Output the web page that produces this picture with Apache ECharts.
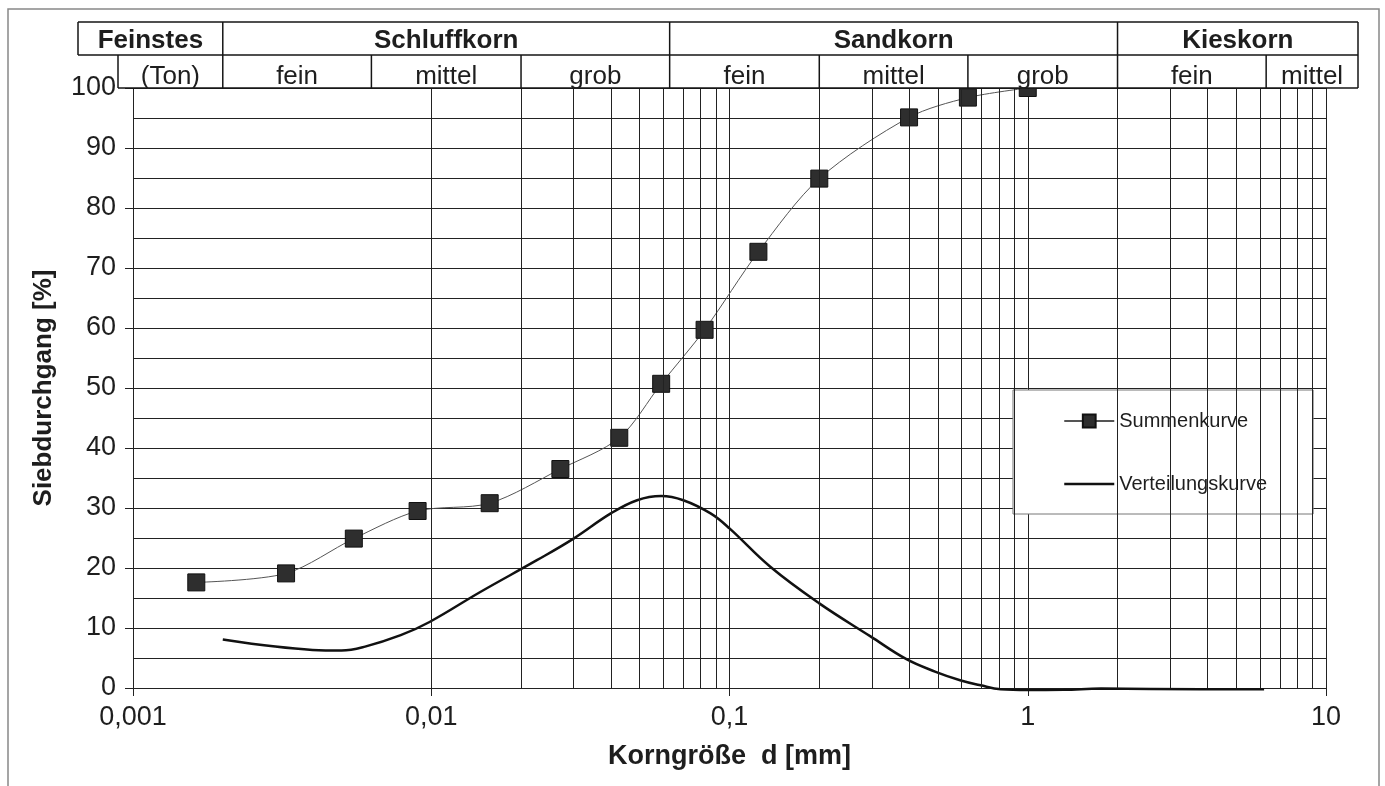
<!DOCTYPE html>
<html>
<head>
<meta charset="utf-8">
<title>Körnungslinie</title>
<script src="https://cdn.jsdelivr.net/npm/echarts@6/dist/echarts.min.js"></script>
<style>
  html, body { margin: 0; padding: 0; background: #fff; }
  #chart { width: 1385px; height: 786px; }
</style>
</head>
<body>
<div id="chart"></div>
<script>
// Summenkurve: Korngröße d [mm] / Siebdurchgang [%]
var summeD = [0.00163, 0.00326, 0.0055, 0.009, 0.0157, 0.0271, 0.0427, 0.059, 0.0825, 0.125, 0.2, 0.4, 0.63, 1.0]
var summeP = [17.6, 19.1, 24.9, 29.5, 30.8, 36.5, 41.7, 50.7, 59.7, 72.7, 84.9, 95.1, 98.4, 100]

// Verteilungskurve
var vertD = [0.002, 0.003, 0.004, 0.005, 0.006, 0.0079, 0.00987, 0.0146, 0.0226, 0.03, 0.04, 0.049,
  0.059, 0.07, 0.0864, 0.1, 0.137, 0.2, 0.297, 0.392, 0.491, 0.593, 0.695, 0.811, 1.0, 1.32, 1.76, 3.8, 6.2]
var vertP = [8.1, 6.9, 6.35, 6.25, 6.9, 8.8, 11.0, 16.0, 21.3, 24.9, 29.1, 31.3,
  32.0, 31.3, 29.1, 26.6, 20.2, 14.1, 8.6, 4.8, 2.7, 1.3, 0.45, -0.2, -0.33, -0.3, -0.1, -0.2, -0.2]

var xTickLabels = ['0,001', '0,01', '0,1', '1', '10']
// Zwischenlinien im log. Raster
var minorGridX = [0.002, 0.003, 0.004, 0.005, 0.006, 0.007, 0.008, 0.009,
  0.02, 0.03, 0.04, 0.05, 0.06, 0.07, 0.08, 0.09,
  0.2, 0.3, 0.4, 0.5, 0.6, 0.7, 0.8, 0.9,
  2, 3, 4, 5, 6, 7, 8, 9]

// Kopftabelle
var kornGruppen = ['Feinstes', 'Schluffkorn', 'Sandkorn', 'Kieskorn']
var kornGruppenGrenzen = [0.002, 0.063, 2]
var kornStufen = ['(Ton)', 'fein', 'mittel', 'grob', 'fein', 'mittel', 'grob', 'fein', 'mittel']
var kornStufenGrenzen = [0.002, 0.0063, 0.02, 0.063, 0.2, 0.63, 2, 6.3]

var FONT = 'Liberation Sans'
var INK = '#1e1e1e'

var chart = echarts.init(document.getElementById('chart'))

function pairs(xs, ys) {
  return xs.map(function(x, i) { return [x, ys[i]] })
}

chart.setOption({
  animation: false,
  backgroundColor: '#fff',
  textStyle: { fontFamily: FONT, color: INK },
  grid: { left: 133, right: 59, top: 88, bottom: 98 },
  legend: {
    orient: 'vertical',
    left: 1013,
    top: 390,
    data: [
      { name: 'Summenkurve' },
      {
        name: 'Verteilungskurve',
        itemStyle: { opacity: 0, borderWidth: 0 },
        lineStyle: { width: 2.5, color: '#111' }
      }
    ],
    backgroundColor: '#fff',
    borderColor: '#777',
    borderWidth: 1,
    borderRadius: 0,
    padding: [21, 46, 20, 50],
    itemGap: 43,
    itemWidth: 50,
    itemHeight: 16,
    textStyle: { fontFamily: FONT, fontSize: 20, color: INK }
  },
  xAxis: {
    type: 'log',
    logBase: 10,
    min: 0.001,
    max: 10,
    name: 'Korngröße  d [mm]',
    nameLocation: 'middle',
    nameGap: 55,
    nameTextStyle: { fontFamily: FONT, fontSize: 27, fontWeight: 'bold', color: INK },
    axisLine: { show: true, onZero: false, lineStyle: { color: '#222', width: 1 } },
    axisTick: { show: true, length: 8, lineStyle: { color: '#222' } },
    axisLabel: {
      margin: 16,
      fontFamily: FONT,
      fontSize: 27,
      color: INK,
      formatter: function(v, i) { return xTickLabels[i] }
    },
    splitLine: { show: true, lineStyle: { color: '#222', width: 1 } },
    minorTick: { show: false },
    minorSplitLine: { show: false }
  },
  yAxis: {
    type: 'value',
    min: 0,
    max: 100,
    interval: 10,
    name: 'Siebdurchgang [%]',
    nameLocation: 'middle',
    nameGap: 76,
    nameRotate: 90,
    nameTextStyle: { fontFamily: FONT, fontSize: 26, fontWeight: 'bold', color: INK },
    axisLine: { show: true, lineStyle: { color: '#222', width: 1 } },
    axisTick: { show: true, length: 8, lineStyle: { color: '#222' } },
    axisLabel: { margin: 17, fontFamily: FONT, fontSize: 27, color: INK },
    splitLine: { show: true, lineStyle: { color: '#222', width: 1 } },
    minorTick: { show: false, splitNumber: 2 },
    minorSplitLine: { show: true, lineStyle: { color: '#222', width: 1 } }
  },
  series: [
    {
      name: 'raster',
      type: 'line',
      data: [],
      z: 1,
      silent: true,
      markLine: {
        silent: true,
        symbol: ['none', 'none'],
        label: { show: false },
        lineStyle: { color: '#222', width: 1, type: 'solid' },
        data: minorGridX.map(function(v) { return { xAxis: v } })
      }
    },
    {
      name: 'Summenkurve',
      type: 'line',
      data: pairs(summeD, summeP),
      smooth: 0.3,
      symbol: 'rect',
      symbolSize: 17,
      z: 4,
      lineStyle: { color: '#555', width: 1 },
      itemStyle: { color: '#2e2e2e', borderColor: '#111', borderWidth: 1 }
    },
    {
      name: 'Verteilungskurve',
      type: 'line',
      data: pairs(vertD, vertP),
      smooth: 0.4,
      symbol: 'none',
      clip: false,
      z: 3,
      lineStyle: { color: '#111', width: 2.5 },
      itemStyle: { color: '#111' }
    }
  ]
})

// Kopftabelle über dem Diagramm, Grenzen über die x-Achse umgerechnet
function px(v) {
  return chart.convertToPixel({ xAxisIndex: 0 }, v)
}

var hTop = 22
var hMid = 55
var hBot = 88
var hLeft = 78
var tonLeft = 118
var hRight = 1358
var lineStyle = { stroke: '#151515', lineWidth: 1.5 }

function hline(x1, x2, y) {
  return { type: 'line', z: 20, shape: { x1: x1, y1: y, x2: x2, y2: y }, style: lineStyle }
}
function vline(x, y1, y2) {
  return { type: 'line', z: 20, shape: { x1: x, y1: y1, x2: x, y2: y2 }, style: lineStyle }
}
function cellText(txt, x1, x2, y, bold) {
  return {
    type: 'text',
    z: 21,
    x: (x1 + x2) / 2,
    y: y,
    style: {
      text: txt,
      fill: INK,
      font: (bold ? 'bold ' : '') + '26px "' + FONT + '"',
      align: 'center',
      verticalAlign: 'middle'
    }
  }
}

var graphics = []
// Rahmen um alles
graphics.push({
  type: 'rect', z: 0,
  shape: { x: 8, y: 9, width: 1371, height: 800 },
  style: { fill: 'none', stroke: '#888', lineWidth: 1.5 }
})
// weiße Fläche der Tabelle
graphics.push({ type: 'rect', z: 19, shape: { x: hLeft, y: hTop, width: hRight - hLeft, height: hMid - hTop }, style: { fill: '#fff' } })
graphics.push({ type: 'rect', z: 19, shape: { x: tonLeft, y: hMid, width: hRight - tonLeft, height: hBot - hMid }, style: { fill: '#fff' } })

graphics.push(hline(hLeft, hRight, hTop))
graphics.push(hline(hLeft, hRight, hMid))
graphics.push(hline(tonLeft, hRight, hBot))
graphics.push(vline(hLeft, hTop, hMid))
graphics.push(vline(tonLeft, hMid, hBot))
graphics.push(vline(hRight, hTop, hBot))

var gEdges = [hLeft].concat(kornGruppenGrenzen.map(px)).concat([hRight])
kornGruppenGrenzen.forEach(function(v) { graphics.push(vline(px(v), hTop, hMid)) })
kornGruppen.forEach(function(t, i) { graphics.push(cellText(t, gEdges[i], gEdges[i + 1], 41, true)) })

var sEdges = [tonLeft].concat(kornStufenGrenzen.map(px)).concat([hRight])
kornStufenGrenzen.forEach(function(v) { graphics.push(vline(px(v), hMid, hBot)) })
kornStufen.forEach(function(t, i) { graphics.push(cellText(t, sEdges[i], sEdges[i + 1], 77, false)) })

chart.setOption({ graphic: graphics })
</script>
</body>
</html>
